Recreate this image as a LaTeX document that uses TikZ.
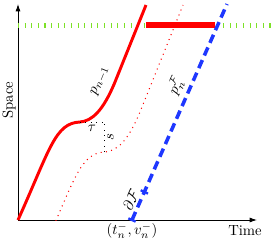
\documentclass[tikz,border=0pt]{standalone}
\usepackage{amsmath}
\usepackage{amsfonts}
\usetikzlibrary{arrows.meta}

\definecolor{roadgreen}{RGB}{125,225,40}
\definecolor{freeblue}{RGB}{30,55,255}

% leader trajectory, reused for the shifted copy
\newcommand{\leadcurve}{(18,21) .. controls (50,92) and (55,118) .. (80,119) .. controls (92,120) and (103,130) .. (115,159)}

\begin{document}
\begin{tikzpicture}[x=0.68pt, y=0.68pt, line width=0.6pt,
    traj/.style={red, line width=2pt},
    ghost/.style={red, line width=0.7pt, dash pattern=on 0.7pt off 2.9pt},
    guide/.style={black, line width=0.5pt, dash pattern=on 0.5pt off 3.2pt},
    free/.style={freeblue, line width=2.4pt, dash pattern=on 6pt off 3.4pt},
    freetick/.style={freeblue, line width=1.6pt}]
    \useasboundingbox (0,0) rectangle (274,241);

    % Axes
    \coordinate (O) at (18,21);
    \coordinate (T) at (257,21);
    \coordinate (S) at (18,237);
    \draw[-{Latex[length=5pt,width=3.4pt]}] (O) -- (T);
    \draw[-{Latex[length=5pt,width=3.4pt]}] (O) -- (S);
    \node[rotate=90] (space) at (9,141) {Space};
    \node (time) at (245,10) {Time};

    % End of the road
    \draw[roadgreen, line width=3.4pt, dash pattern=on 0.7pt off 3.8pt] (18,216) -- (272,216);

    % Shifted copy of the leader (tau to the right, s down)
    \begin{scope}
        \clip (O) rectangle (274,237);
        \draw[ghost, shift={(25,-30)}] \leadcurve -- (158,266);
    \end{scope}

    % Leader trajectory
    \draw[traj] \leadcurve coordinate (bend) -- (146,236) coordinate (lead);
    \node[rotate=68] (plabel) at (100,160) {$p_{n-1}$};

    % Shift between the two
    \draw[guide] (80,119) coordinate (plat) -- node[below, inner sep=2pt] (taulab) {$\tau$} (104,119) coordinate (corner);
    \draw[guide] (104,89) coordinate (plat2) -- node[below, sloped, inner sep=2pt] (slab) {$s$} (corner);

    % Blocked stretch
    \coordinate (barstart) at (146,216);
    \coordinate (barend) at (215,216);
    \draw[red, line width=4pt] (barstart) -- (barend);

    % Free-flow trajectory
    \coordinate (tn) at (132,21);
    \coordinate (free) at (227,237);
    \draw[free] (tn) -- (free) coordinate[pos=0.13] (mk);
    \draw[freetick] (tn) ++(156:4) -- ++(-24:8);
    \draw[freetick] (mk) ++(156:4) -- ++(-24:8);
    \node[below, inner sep=1.5pt] (tnlab) at (tn) {$(t_n^-,v_n^-)$};
    \node[rotate=66] (dF) at (131,41) {$\partial\mathcal{F}$};
    \node[rotate=66] (pF) at (176,155) {$p_n^{\mathcal{F}}$};
\end{tikzpicture}
\end{document}
